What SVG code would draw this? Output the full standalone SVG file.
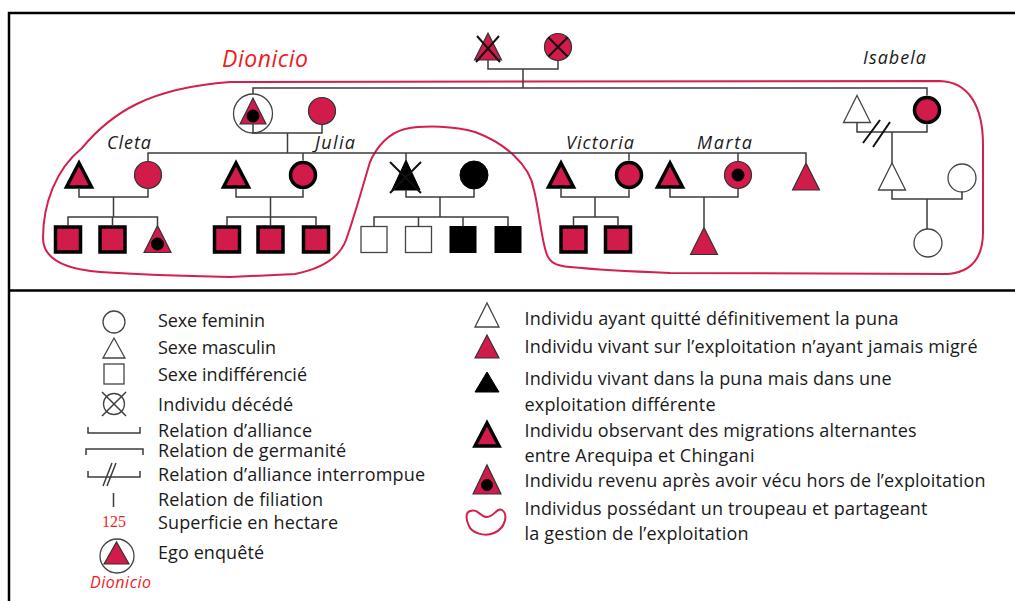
<svg xmlns="http://www.w3.org/2000/svg" xmlns:xlink="http://www.w3.org/1999/xlink" width="1015" height="601" viewBox="0 0 1015 601">
<style>
.r{fill:#d01b4b;stroke:#333;stroke-width:1.2}
.rt{fill:#d01b4b;stroke:#000;stroke-width:3.5;stroke-linejoin:miter}
.k{fill:#000;stroke:#000;stroke-width:1}
.w{fill:#fff;stroke:#444;stroke-width:1.3}
.ln{fill:none;stroke:#3c3c3c;stroke-width:1.5}
.x{fill:none;stroke:#111;stroke-width:2}
.sl{fill:none;stroke:#111;stroke-width:2}
.frame{fill:none;stroke:#000;stroke-width:2.5}
.blob{fill:none;stroke:#d4204c;stroke-width:2}
.lg{font-family:"Open Sans","Liberation Sans",sans-serif;font-size:18px;fill:#1a1a1a}
.nm{font-family:"Open Sans","Liberation Sans",sans-serif;font-size:18px;font-style:italic;fill:#1a1a1a}
.red{fill:#ee1c25}
.num{font-family:"Liberation Serif",serif;font-size:16px;fill:#ee1c25}
</style>
<defs>
<path id="tri" d="M-13.5,13.5 L0,-13.5 L13.5,13.5 Z"/>
<path id="ttri" d="M-12.5,12 L0,-12 L12.5,12 Z"/>
<rect id="sq" x="-12.5" y="-12.5" width="25" height="25"/>
<rect id="wsq" x="-13" y="-13" width="26" height="26"/>
</defs>
<rect x="0" y="0" width="1015" height="601" fill="#fff"/>
<path class="frame" d="M9,601 V13 H1015 M9,290.5 H1015"/>

<path class="blob" d="M230,82 L940,81 C968,82 983,105 983,145 L983,232 C983,258 972,272 948,274 L670,273 C620,271 590,269 570,267 C555,266 549,262 546,252 C541,236 539,210 534,190 C530,165 505,143 475,132 C455,126 425,125 405,129 C388,133 376,148 370,162 C363,185 355,215 346,240 C340,256 325,268 295,274 L230,277 C180,276 130,274 100,272 C62,269 43,258 43,238 C43,205 55,170 82,148 C112,112 150,88 230,82 Z"/>

<text class="nm red" x="222" y="67" textLength="86" style="font-size:23px">Dionicio</text>
<text class="nm" x="863" y="64" textLength="63">Isabela</text>
<text class="nm" x="107" y="149" textLength="44">Cleta</text>
<text class="nm" x="315" y="149" textLength="40">Julia</text>
<text class="nm" x="566" y="149" textLength="68">Victoria</text>
<text class="nm" x="697" y="149" textLength="55">Marta</text>

<g id="grandfather"><use href="#tri" class="r" x="488" y="46.5"/><path class="x" d="M477,36 L500,62 M499,36 L476,62"/></g>
<g id="grandmother"><circle class="r" cx="558" cy="47" r="13.5"/><path class="x" d="M548.5,37.5 L567.5,56.5 M567.5,37.5 L548.5,56.5"/></g>

<g id="dionicio"><circle class="w" cx="253" cy="113.5" r="19.5"/><path class="r" d="M240,124 L253,98 L266,124 Z"/><circle class="k" cx="253" cy="116" r="6"/></g>
<g id="dionicio-wife"><circle class="r" cx="322" cy="111" r="13.5"/></g>
<g id="isabela-ex"><use href="#tri" class="w" x="857" y="109"/></g>
<g id="isabela"><circle class="rt" cx="927" cy="110" r="12.5"/></g>

<g id="cleta-husband"><use href="#ttri" class="rt" x="79" y="175"/></g>
<g id="cleta"><circle class="r" cx="148" cy="175" r="13.5"/></g>
<g id="julia-husband"><use href="#ttri" class="rt" x="236" y="175"/></g>
<g id="julia"><circle class="rt" cx="303" cy="175" r="12.5"/></g>
<g id="brother-black"><path class="k" d="M392,190 L406,160 L420,190 Z"/><path class="x" d="M390,162 L421,193 M421,162 L390,193"/></g>
<g id="brother-black-wife"><circle class="k" cx="474" cy="175" r="14"/></g>
<g id="victoria-husband"><use href="#ttri" class="rt" x="561" y="175"/></g>
<g id="victoria"><circle class="rt" cx="629" cy="175" r="12.5"/></g>
<g id="marta-husband"><use href="#ttri" class="rt" x="670" y="175"/></g>
<g id="marta"><circle class="r" cx="738" cy="175" r="13.5"/><circle class="k" cx="738" cy="175" r="6"/></g>
<g id="brother-red"><use href="#tri" class="r" x="806" y="176.5"/></g>
<g id="isabela-son"><use href="#tri" class="w" x="892" y="176.5"/></g>
<g id="isabela-son-wife"><circle class="w" cx="962" cy="178" r="14"/></g>

<g id="cleta-c1"><use href="#sq" class="rt" x="68" y="239.5"/></g>
<g id="cleta-c2"><use href="#sq" class="rt" x="112.5" y="239.5"/></g>
<g id="cleta-c3"><use href="#tri" class="r" x="157.5" y="239"/><circle class="k" cx="157.5" cy="244" r="6"/></g>
<g id="julia-c1"><use href="#sq" class="rt" x="227" y="239.5"/></g>
<g id="julia-c2"><use href="#sq" class="rt" x="270.5" y="239.5"/></g>
<g id="julia-c3"><use href="#sq" class="rt" x="316" y="239.5"/></g>
<g id="black-c1"><use href="#wsq" class="w" x="374" y="239.5"/></g>
<g id="black-c2"><use href="#wsq" class="w" x="418.5" y="239.5"/></g>
<g id="black-c3"><use href="#wsq" class="k" x="463" y="239.5"/></g>
<g id="black-c4"><use href="#wsq" class="k" x="508" y="239.5"/></g>
<g id="victoria-c1"><use href="#sq" class="rt" x="573.5" y="239.5"/></g>
<g id="victoria-c2"><use href="#sq" class="rt" x="618" y="239.5"/></g>
<g id="marta-c1"><use href="#tri" class="r" x="704" y="241"/></g>
<g id="isabela-grandchild"><circle class="w" cx="928" cy="243" r="14"/></g>

<g id="connectors">
<path class="ln" d="M488,60 V69 H558 V60.5 M523,69 V88"/>
<path class="ln" d="M253,94 V88 H927 V95.5"/>
<path class="ln" d="M253,124 V133 H322 V124.5 M287.5,133 V153"/>
<path class="ln" d="M148,161.5 V153 H806 V163 M303,153 V160.5 M406,153 V160 M629,153 V160.5 M738,153 V161.5"/>
<path class="ln" d="M857,122.5 V132 H927 V124.5 M892,132 V163"/>
<path class="sl" d="M863,143 L880,120 M873,147 L890,122"/>
<path class="ln" d="M79,188.5 V197 H148 V188.5 M113.5,197 V217 M68,226 V217 H157.5 V225.5 M112.5,217 V226"/>
<path class="ln" d="M236,188.5 V197 H303 V189.5 M270.5,197 V217 M227,226 V217 H316 V226 M270.5,217 V226"/>
<path class="ln" d="M406,190 V197 H474 V189 M440,197 V217 M374,226.5 V217 H508 V226.5 M418.5,217 V226.5 M463,217 V226.5"/>
<path class="ln" d="M561,188.5 V197 H629 V189.5 M595,197 V217 M573.5,226 V217 H618 V226"/>
<path class="ln" d="M670,188.5 V197 H738 V188.5 M704,197 V227.5"/>
<path class="ln" d="M892,190 V199 H962 V192 M927,199 V229"/>
</g>

<g id="legend-left">
<circle class="w" cx="114" cy="322" r="11"/>
<text class="lg" x="158" y="327" textLength="107">Sexe feminin</text>
<path class="w" d="M103,358 L114,338 L125,358 Z"/>
<text class="lg" x="158" y="354" textLength="118">Sexe masculin</text>
<rect class="w" x="104" y="364" width="20" height="20"/>
<text class="lg" x="158" y="381" textLength="149">Sexe indifférencié</text>
<circle class="w" cx="114" cy="404" r="10.5"/>
<path class="ln" d="M102,392 L126,416 M126,392 L102,416"/>
<text class="lg" x="158" y="411" textLength="135">Individu décédé</text>
<path class="ln" d="M88,427 V433 H140 V427"/>
<text class="lg" x="158" y="437" textLength="154">Relation d’alliance</text>
<path class="ln" d="M86,455 V449 H143 V455"/>
<text class="lg" x="158" y="457" textLength="188">Relation de germanité</text>
<path class="ln" d="M88,471 V477 H140 V471 M103,486 L112,463 M107,486 L116,463"/>
<text class="lg" x="158" y="481" textLength="267">Relation d’alliance interrompue</text>
<path class="ln" d="M113.5,493 V507"/>
<text class="lg" x="158" y="506" textLength="165">Relation de filiation</text>
<text class="num" x="102" y="527" textLength="24">125</text>
<text class="lg" x="158" y="529" textLength="180">Superficie en hectare</text>
<circle class="w" cx="117" cy="556" r="17"/>
<path class="r" d="M104,564 L116.5,542 L129,564 Z"/>
<text class="lg" x="158" y="559" textLength="106">Ego enquêté</text>
<text class="nm red" x="90" y="588" textLength="61" style="font-size:16px">Dionicio</text>
</g>

<g id="legend-right">
<path class="w" d="M475,327 L487,303 L499,327 Z"/>
<text class="lg" x="524.5" y="325" textLength="374">Individu ayant quitté définitivement la puna</text>
<path class="r" d="M475,358 L487,335 L499,358 Z"/>
<text class="lg" x="524.5" y="353" textLength="453">Individu vivant sur l’exploitation n’ayant jamais migré</text>
<path class="k" d="M475,392 L487,372 L499,392 Z"/>
<text class="lg" x="524.5" y="385" textLength="367">Individu vivant dans la puna mais dans une</text>
<text class="lg" x="524.5" y="411" textLength="191">exploitation différente</text>
<path class="rt" d="M475,446 L487,423 L499,446 Z"/>
<text class="lg" x="524.5" y="437" textLength="392">Individu observant des migrations alternantes</text>
<text class="lg" x="524.5" y="462" textLength="230">entre Arequipa et Chingani</text>
<path class="r" d="M473,494 L487,465 L501,494 Z"/>
<circle class="k" cx="487" cy="485" r="5.5"/>
<text class="lg" x="524.5" y="487" textLength="461">Individu revenu après avoir vécu hors de l’exploitation</text>
<path class="blob" d="M470,511 C478,508 480,517 487,517 C494,517 497,507 502,510 C508,514 506,528 494,533 C484,537 472,533 469,526 C466,520 465,513 470,511 Z"/>
<text class="lg" x="524.5" y="515" textLength="403">Individus possédant un troupeau et partageant</text>
<text class="lg" x="524.5" y="540" textLength="224">la gestion de l’exploitation</text>
</g>
</svg>
